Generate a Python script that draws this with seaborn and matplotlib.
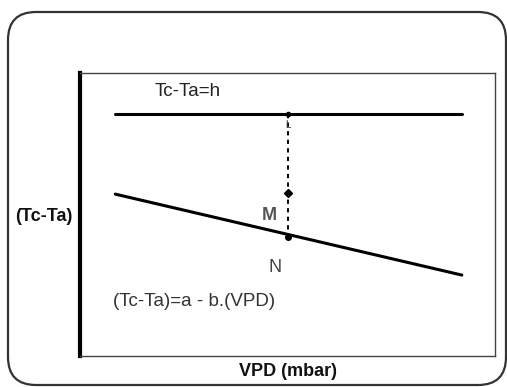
import matplotlib
matplotlib.use("Agg")
import matplotlib.pyplot as plt
import seaborn as sns
import pandas as pd
from matplotlib.patches import FancyBboxPatch

# schematic values (arbitrary units)
vpd = [8.5, 92.0]
upper_line = [85.5, 85.5]      # Tc-Ta = h
lower_line = [57.2, 28.6]      # Tc-Ta = a - b.VPD
point_x = 50.1
point_L = 85.5
point_M = 57.5
point_N = 42.0

sns.set_theme(style="white")
plt.rcParams['font.family'] = ['Liberation Sans', 'DejaVu Sans']

fig = plt.figure(figsize=(5.07, 3.87), dpi=100)
ax = fig.add_axes([80 / 507, 31 / 387, 415 / 507, 283 / 387])

df = pd.DataFrame({
    "vpd": vpd * 2,
    "dt": upper_line + lower_line,
    "line": ["upper"] * 2 + ["lower"] * 2,
})
sns.lineplot(data=df, x="vpd", y="dt", units="line", estimator=None,
             color="black", linewidth=2.2, ax=ax, legend=False)

ax.plot([point_x, point_x], [point_L, point_N], color="black",
        linestyle=(0, (2.2, 2.2)), linewidth=1.4)
ax.plot(point_x, point_M, marker="D", color="black", markersize=4)
ax.plot(point_x, point_N, marker="o", color="black", markersize=4)
ax.plot(point_x, point_L, marker="o", color="black", markersize=3)

ax.text(18.1, 93.6, "Tc-Ta=h", fontsize=13.5, color="#222222", va="center")
ax.text(point_x, 83.5, "L", fontsize=7, color="#333333", ha="center", va="top")
ax.text(45.5, 49.8, "M", fontsize=13, color="#555555", ha="center", va="center",
        fontweight="bold")
ax.text(47.0, 31.1, "N", fontsize=13, color="#444444", ha="center", va="center")
ax.text(8.0, 19.1, "(Tc-Ta)=a - b.(VPD)", fontsize=13.5, color="#333333",
        va="center")

ax.set_xlim(0, 100)
ax.set_ylim(0, 100)
ax.set_xticks([])
ax.set_yticks([])
ax.set_xlabel("")
ax.set_ylabel("")
fig.text(288 / 507, 1 - 371 / 387, "VPD (mbar)", fontsize=13, fontweight="bold",
         va="center", ha="center", color="#111111")
fig.text(15 / 507, 1 - 217 / 387, "(Tc-Ta)", fontsize=13, fontweight="bold",
         va="center", ha="left", color="#111111")

for side in ["top", "right", "bottom"]:
    ax.spines[side].set_color("#444444")
    ax.spines[side].set_linewidth(1.0)
ax.spines["left"].set_color("black")
ax.spines["left"].set_linewidth(3.0)

# rounded outer frame, drawn in inches so the corners stay round
frame = FancyBboxPatch((0.08, 0.02), 4.98, 3.73,
                       boxstyle="round,pad=0,rounding_size=0.28",
                       transform=fig.dpi_scale_trans, fill=False,
                       edgecolor="#333333", linewidth=1.6, clip_on=False)
fig.patches.append(frame)

fig.savefig("out.png", dpi=100)
